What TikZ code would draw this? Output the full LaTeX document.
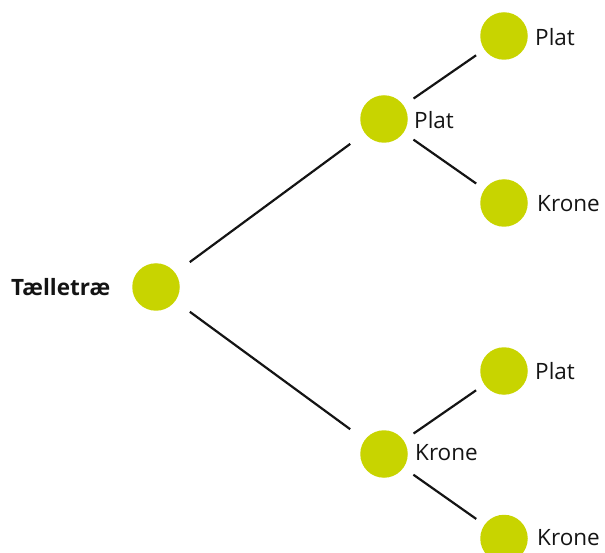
\documentclass[tikz,border=0pt]{standalone}
\usepackage{fontspec}
\setmainfont{Open Sans}
\definecolor{lime}{RGB}{200,212,0}
\definecolor{ink}{RGB}{20,20,20}
\begin{document}
\begin{tikzpicture}[x=1pt,y=-1pt,
  dot/.style={circle,fill=lime,draw=none,minimum size=47.5pt,inner sep=0pt},
  lbl/.style={anchor=west,inner sep=0pt,text=ink,font=\fontsize{22.5}{26}\selectfont},
  edge/.style={draw=ink,line width=2.2pt}]
\useasboundingbox (0,0) rectangle (605,553);
\clip (0,0) rectangle (605,553);
\node[dot] (r) at (156,287) {};
\node[dot] (p) at (384,119) {};
\node[dot] (k) at (384,454) {};
\node[dot] (pp) at (504,36) {};
\node[dot] (kp) at (504,371) {};
\node[dot] (pk) at (504,203) {};
\node[dot] (kk) at (504,538.5) {};
\node[anchor=west,inner sep=0pt,text=ink,font=\fontsize{22.5}{26}\selectfont\bfseries] (t) at (11,287) {Tælletræ};
\node[lbl] (lp) at (414,120) {Plat};
\node[lbl] (lk) at (415,453) {Krone};
\node[lbl] (lpp) at (535,37) {Plat};
\node[lbl] (lpk) at (537,204) {Krone};
\node[lbl] (lkp) at (535,371) {Plat};
\node[lbl] (lkk) at (537,538) {Krone};
\draw[edge,shorten <=18pt,shorten >=18pt] (r) -- (p);
\draw[edge,shorten <=18pt,shorten >=18pt] (r) -- (k);
\draw[edge,shorten <=12pt,shorten >=10pt] (p) -- (pp);
\draw[edge,shorten <=12pt,shorten >=10pt] (p) -- (pk);
\draw[edge,shorten <=12pt,shorten >=10pt] (k) -- (kp);
\draw[edge,shorten <=12pt,shorten >=10pt] (k) -- (kk);
\end{tikzpicture}
\end{document}
